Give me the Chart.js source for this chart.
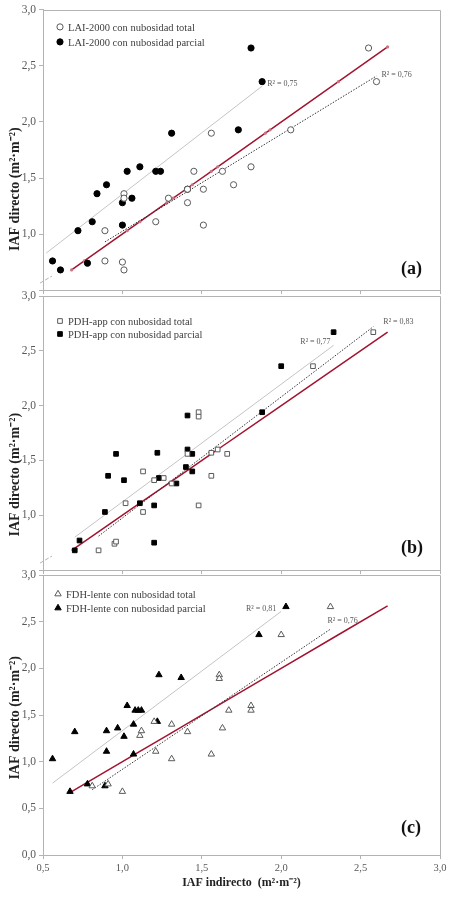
<!DOCTYPE html>
<html>
<head>
<meta charset="utf-8">
<script src="https://cdn.jsdelivr.net/npm/chart.js@4.4.0/dist/chart.umd.min.js"></script>
<style>
  html, body { margin: 0; padding: 0; background: #fff; }
  #wrap { position: relative; width: 458px; height: 900px; }
  #wrap canvas { position: absolute; left: 0; }
</style>
</head>
<body>
<div id="wrap">
  <canvas id="panelA" width="458" height="300" style="top:0px"></canvas>
  <canvas id="panelB" width="458" height="300" style="top:280px"></canvas>
  <canvas id="panelC" width="458" height="340" style="top:560px"></canvas>
</div>
<script>
// (a) LAI-2000
const laiTotalX = [0.89, 0.89, 1.00, 1.01, 1.01, 1.01, 1.21, 1.29, 1.41, 1.41, 1.45, 1.51, 1.51, 1.56, 1.63, 1.70, 1.81, 2.06, 2.55, 2.60]
const laiTotalY = [1.03, 0.76, 0.75, 0.68, 1.36, 1.32, 1.11, 1.32, 1.28, 1.40, 1.56, 1.40, 1.08, 1.90, 1.56, 1.44, 1.60, 1.93, 2.66, 2.36]
const laiPartialX = [0.56, 0.61, 0.72, 0.78, 0.81, 0.84, 0.90, 1.00, 1.00, 1.03, 1.06, 1.11, 1.21, 1.24, 1.31, 1.41, 1.73, 1.81, 1.88]
const laiPartialY = [0.76, 0.68, 1.03, 0.74, 1.11, 1.36, 1.44, 1.28, 1.08, 1.56, 1.32, 1.60, 1.56, 1.56, 1.90, 1.40, 1.93, 2.66, 2.36]
const laiTrendPartialX = [0.52, 1.88]
const laiTrendPartialY = [0.83, 2.32]
const laiTrendTotalX = [0.89, 2.60]
const laiTrendTotalY = [0.93, 2.41]

// (b) PDH-app
const pdhTotalX = [0.85, 0.95, 0.96, 1.02, 1.13, 1.13, 1.20, 1.26, 1.31, 1.41, 1.48, 1.48, 1.48, 1.56, 1.56, 1.60, 1.66, 2.20, 2.58]
const pdhTotalY = [0.68, 0.74, 0.76, 1.11, 1.40, 1.03, 1.32, 1.34, 1.29, 1.56, 1.94, 1.90, 1.09, 1.36, 1.57, 1.60, 1.56, 2.36, 2.67]
const pdhPartialX = [0.70, 0.73, 0.89, 0.91, 0.96, 1.01, 1.11, 1.20, 1.20, 1.22, 1.23, 1.34, 1.40, 1.41, 1.41, 1.44, 1.44, 1.88, 2.00, 2.33]
const pdhPartialY = [0.68, 0.77, 1.03, 1.36, 1.56, 1.32, 1.11, 1.09, 0.75, 1.57, 1.34, 1.29, 1.44, 1.91, 1.60, 1.56, 1.40, 1.94, 2.36, 2.67]
const pdhTrendPartialX = [0.70, 2.33]
const pdhTrendPartialY = [0.80, 2.55]
const pdhTrendTotalX = [0.85, 2.58]
const pdhTrendTotalY = [0.81, 2.72]

// (c) FDH-lente
const fdhTotalX = [0.81, 0.91, 1.00, 1.11, 1.12, 1.20, 1.21, 1.31, 1.31, 1.41, 1.56, 1.61, 1.61, 1.63, 1.67, 1.81, 1.81, 2.00, 2.31]
const fdhTotalY = [0.74, 0.76, 0.68, 1.28, 1.33, 1.43, 1.11, 1.40, 1.03, 1.32, 1.08, 1.93, 1.89, 1.36, 1.55, 1.60, 1.55, 2.36, 2.66]
const fdhPartialX = [0.56, 0.67, 0.70, 0.78, 0.89, 0.90, 0.90, 0.97, 1.01, 1.03, 1.07, 1.07, 1.08, 1.10, 1.12, 1.22, 1.23, 1.37, 1.86, 2.03]
const fdhPartialY = [1.03, 0.68, 1.32, 0.76, 0.74, 1.11, 1.33, 1.36, 1.27, 1.60, 1.40, 1.08, 1.55, 1.55, 1.55, 1.43, 1.93, 1.90, 2.36, 2.66]
const fdhTrendPartialX = [0.56, 2.00]
const fdhTrendPartialY = [0.77, 2.61]
const fdhTrendTotalX = [0.81, 2.31]
const fdhTrendTotalY = [0.70, 2.42]

// 1:1 line
const oneToOne = [0.68, 0.76, 1.03, 1.11, 1.28, 1.32, 1.44, 1.56, 1.60, 1.90, 1.93, 2.36, 2.67]

const xTicks = [0.5, 1.0, 1.5, 2.0, 2.5, 3.0]

const SERIF = '"Liberation Serif", "Times New Roman", serif'
const AXIS = '#b3b3b3'
const TEXT = '#595959'

const fmt = v => Number(v).toFixed(1).replace('.', ',')
const pts = (xs, ys) => xs.map((x, i) => ({ x: x, y: ys[i] }))

const panelDecor = {
  id: 'panelDecor',
  beforeDatasetsDraw(chart, args, o) {
    const a = chart.chartArea
    const ctx = chart.ctx
    ctx.save()
    ctx.strokeStyle = AXIS
    ctx.lineWidth = 1
    ctx.beginPath()
    ctx.moveTo(a.left, Math.round(a.top) + 0.5)
    ctx.lineTo(Math.round(a.right) + 0.5, Math.round(a.top) + 0.5)
    ctx.lineTo(Math.round(a.right) + 0.5, a.bottom)
    ctx.stroke()
    if (o.brk) {
      ctx.setLineDash([4, 2])
      ctx.beginPath()
      ctx.moveTo(a.left - 3, a.bottom - 7)
      ctx.lineTo(a.left + 9, a.bottom - 14)
      ctx.stroke()
    }
    ctx.restore()
  },
  afterDatasetsDraw(chart, args, o) {
    const a = chart.chartArea
    const ctx = chart.ctx
    const y = chart.scales.y
    ctx.save()
    // legend
    ctx.font = '10.5px ' + SERIF
    ctx.textAlign = 'left'
    ctx.textBaseline = 'middle'
    o.legendRows.forEach((dy, i) => {
      const ds = chart.data.datasets[i]
      const py = a.top + dy
      ctx.fillStyle = ds.backgroundColor
      ctx.strokeStyle = ds.borderColor
      ctx.lineWidth = ds.borderWidth
      Chart.helpers.drawPoint(ctx, { pointStyle: ds.pointStyle, radius: ds.pointRadius, rotation: 0, borderWidth: ds.borderWidth }, a.left + o.legendX, py)
      ctx.fillStyle = '#404040'
      ctx.fillText(ds.label, a.left + o.legendX + 8, py + 1)
    })
    // R² labels
    ctx.font = '8px ' + SERIF
    ctx.fillStyle = TEXT
    o.r2.forEach(r => {
      const els = chart.getDatasetMeta(r.ds).data
      const end = els[els.length - 1]
      ctx.textAlign = r.align
      ctx.fillText(r.text, end.x + r.dx, end.y + r.dy)
    })
    // panel letter
    ctx.font = 'bold 18px ' + SERIF
    ctx.fillStyle = '#111'
    ctx.textAlign = 'left'
    ctx.fillText(o.letter, 401, a.bottom - o.letterDy)
    // y title
    ctx.translate(15, y.getPixelForValue(o.titleAt))
    ctx.rotate(-Math.PI / 2)
    ctx.textAlign = 'center'
    ctx.font = 'bold 14px ' + SERIF
    ctx.fillStyle = '#222'
    ctx.fillText('IAF directo (m²·m⁻²)', 0, 0)
    ctx.restore()
  }
}

function panel(id, p) {
  const datasets = [
    { label: p.totalLabel, data: pts(p.totalX, p.totalY), pointStyle: p.style, pointRadius: p.r,
      backgroundColor: '#fff', borderColor: '#5a5a5a', borderWidth: 1 },
    { label: p.partialLabel, data: pts(p.partialX, p.partialY), pointStyle: p.style, pointRadius: p.r,
      backgroundColor: '#000', borderColor: '#000', borderWidth: 1 },
    { type: 'line', label: 'tendencia parcial', data: pts(p.trendPX, p.trendPY),
      borderColor: '#c4c4c4', borderWidth: 1, pointRadius: 0 },
    { type: 'line', label: 'tendencia total', data: pts(p.trendTX, p.trendTY),
      borderColor: '#333', borderWidth: 1, borderDash: [1.5, 1.5], pointRadius: 0 },
    { type: 'line', label: '1:1', data: pts(oneToOne, oneToOne),
      borderColor: '#a3132f', borderWidth: 1.5, pointRadius: p.redDots,
      pointBackgroundColor: '#c77582', pointBorderWidth: 0 },
  ]
  return new Chart(document.getElementById(id), {
    type: 'scatter',
    data: { datasets: datasets },
    options: {
      responsive: false,
      animation: false,
      events: [],
      layout: { padding: { top: p.padTop, right: 18, bottom: 0, left: 0 } },
      plugins: {
        legend: { display: false },
        tooltip: { enabled: false },
        panelDecor: p.decor,
      },
      scales: {
        x: {
          type: 'linear', min: 0.5, max: 3,
          afterBuildTicks: s => { s.ticks = xTicks.map(v => ({ value: v })) },
          afterFit: s => { s.height = p.xHeight },
          ticks: { display: p.xLabels, callback: fmt, color: TEXT, padding: 3, maxRotation: 0,
            font: { family: SERIF, size: 10.5 } },
          grid: { drawOnChartArea: false, color: AXIS, tickLength: 4 },
          border: { color: AXIS },
          title: { display: p.xLabels, text: 'IAF indirecto  (m²·m⁻²)', color: '#222',
            font: { family: SERIF, size: 12, weight: 'bold' }, padding: { top: 0, bottom: 10 } },
        },
        y: {
          min: p.ymin, max: 3,
          afterFit: s => { s.width = 43 },
          ticks: { stepSize: 0.5, color: TEXT, padding: 3,
            callback: v => (p.hideLow && v === 0.5) ? '' : fmt(v),
            font: { family: SERIF, size: 11.5 } },
          grid: { drawOnChartArea: false, color: AXIS, tickLength: 4 },
          border: { color: AXIS },
        },
      },
    },
    plugins: [panelDecor],
  })
}

panel('panelA', {
  totalLabel: 'LAI-2000 con nubosidad total', partialLabel: 'LAI-2000 con nubosidad parcial',
  totalX: laiTotalX, totalY: laiTotalY, partialX: laiPartialX, partialY: laiPartialY,
  trendPX: laiTrendPartialX, trendPY: laiTrendPartialY, trendTX: laiTrendTotalX, trendTY: laiTrendTotalY,
  style: 'circle', r: 3.1, redDots: 1.6,
  padTop: 8, xHeight: 4, xLabels: false, ymin: 0.5, hideLow: true,
  decor: { brk: true, legendX: 17, legendRows: [17, 32], letter: '(a)', letterDy: 21, titleAt: 1.4,
    r2: [{ ds: 2, text: 'R² = 0,75', dx: 5, dy: -2, align: 'left' },
         { ds: 3, text: 'R² = 0,76', dx: 5, dy: -1, align: 'left' }] },
})

panel('panelB', {
  totalLabel: 'PDH-app con nubosidad total', partialLabel: 'PDH-app con nubosidad parcial',
  totalX: pdhTotalX, totalY: pdhTotalY, partialX: pdhPartialX, partialY: pdhPartialY,
  trendPX: pdhTrendPartialX, trendPY: pdhTrendPartialY, trendTX: pdhTrendTotalX, trendTY: pdhTrendTotalY,
  style: 'rect', r: 3.3, redDots: 0,
  padTop: 16, xHeight: 5, xLabels: false, ymin: 0.5, hideLow: true,
  decor: { brk: true, legendX: 17, legendRows: [25, 38], letter: '(b)', letterDy: 22, titleAt: 1.37,
    r2: [{ ds: 2, text: 'R² = 0,77', dx: -3, dy: -3, align: 'right' },
         { ds: 3, text: 'R² = 0,83', dx: 10, dy: -5, align: 'left' }] },
})

panel('panelC', {
  totalLabel: 'FDH-lente con nubosidad total', partialLabel: 'FDH-lente con nubosidad parcial',
  totalX: fdhTotalX, totalY: fdhTotalY, partialX: fdhPartialX, partialY: fdhPartialY,
  trendPX: fdhTrendPartialX, trendPY: fdhTrendPartialY, trendTX: fdhTrendTotalX, trendTY: fdhTrendTotalY,
  style: 'triangle', r: 3.7, redDots: 0,
  padTop: 15, xHeight: 45, xLabels: true, ymin: 0, hideLow: false,
  decor: { brk: false, legendX: 15, legendRows: [19, 33], letter: '(c)', letterDy: 27, titleAt: 1.47,
    r2: [{ ds: 2, text: 'R² = 0,81', dx: -5, dy: -2, align: 'right' },
         { ds: 3, text: 'R² = 0,76', dx: -3, dy: -8, align: 'left' }] },
})
</script>
</body>
</html>
